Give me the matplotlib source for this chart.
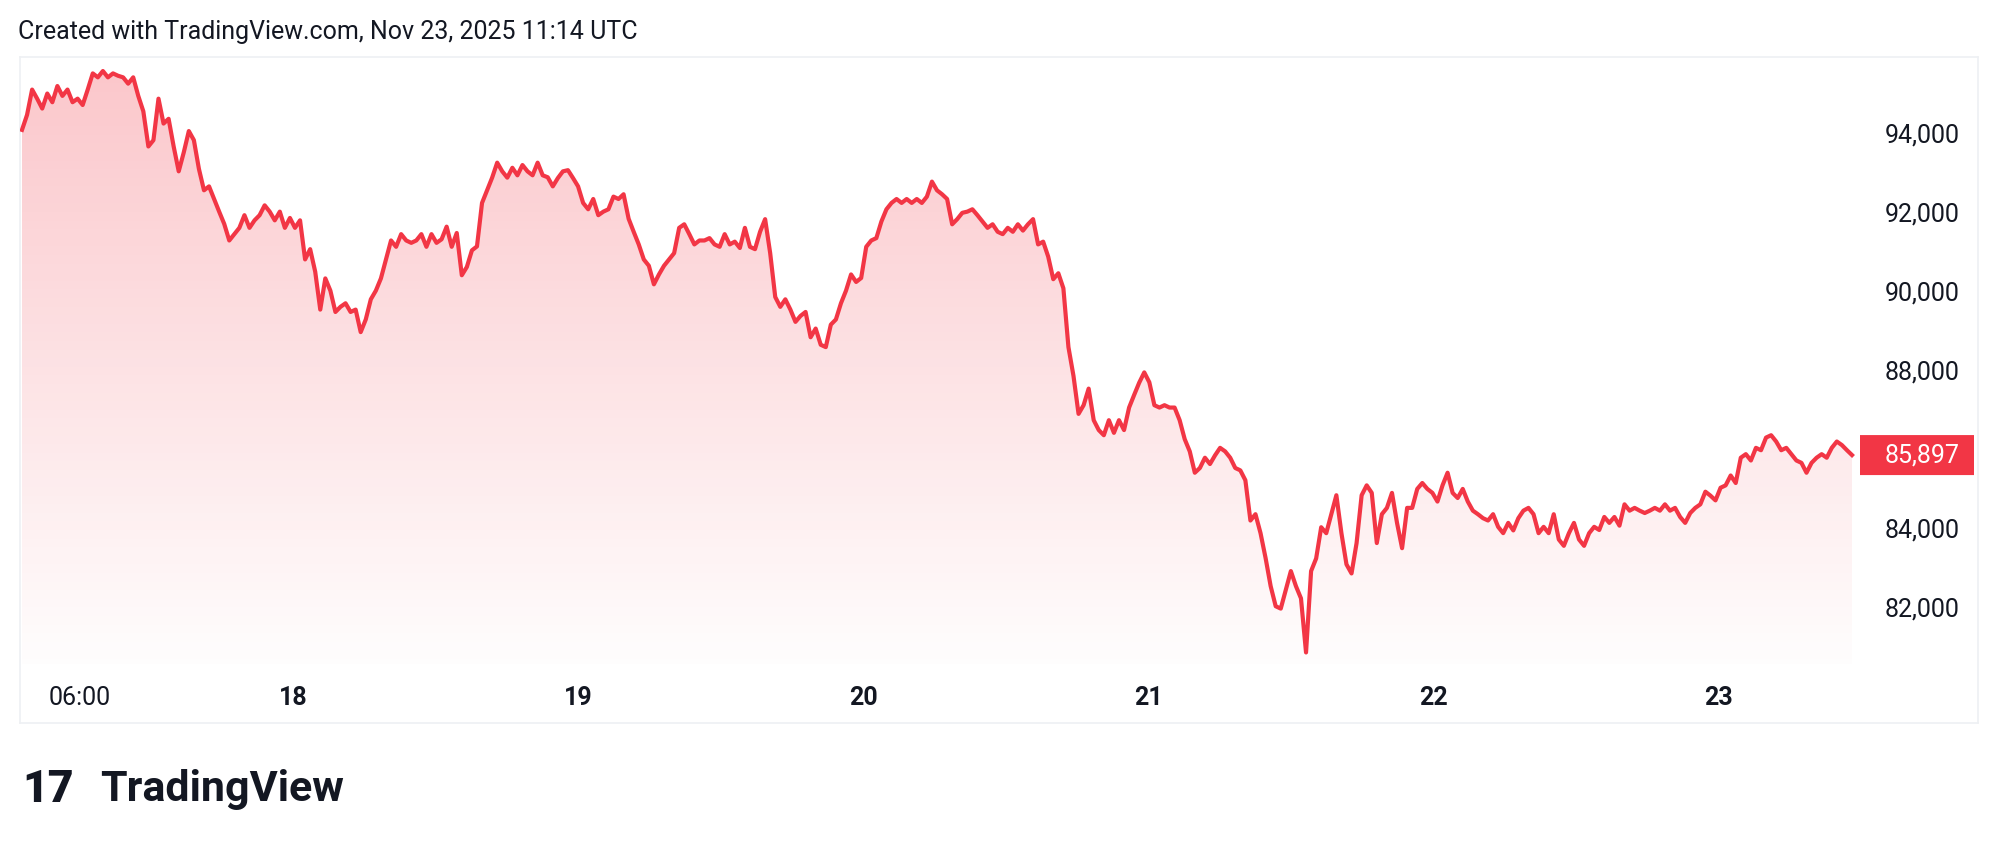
import numpy as np
import pandas as pd
import matplotlib
matplotlib.use("Agg")
import matplotlib.pyplot as plt
from matplotlib.patches import FancyBboxPatch, Polygon
import matplotlib.dates as mdates
import matplotlib.transforms as mtrans

plt.rcParams['font.family'] = ['Roboto', 'DejaVu Sans']

prices = [
94130,94510,95150,94920,94670,95050,94830,95240,94990,95150,94830,94920,94760,95150,95560,95460,95620,95460,95560,95500,95460,95300,95460,94990,94600,
93710,93870,94920,94290,94410,93710,93080,93560,94100,93870,93140,92600,92700,92380,92060,91750,91330,91490,91650,91970,91650,91840,91970,92220,92060,
91840,92060,91650,91900,91650,91840,90850,91110,90540,89580,90370,90060,89520,89650,89740,89520,89580,89010,89330,89840,90060,90370,90850,91330,91170,
91490,91330,91270,91330,91490,91170,91490,91270,91360,91680,91170,91520,90450,90660,91080,91180,92280,92600,92920,93300,93080,92920,93170,92980,93240,
93080,92980,93300,92980,92930,92700,92910,93080,93110,92910,92700,92280,92120,92380,91970,92060,92120,92440,92380,92500,91880,91550,91230,90850,90690,
90220,90470,90690,90850,91010,91650,91740,91490,91230,91330,91330,91390,91230,91170,91490,91230,91300,91140,91650,91170,91110,91550,91870,91010,89900,
89650,89840,89580,89270,89420,89520,88880,89100,88690,88630,89200,89330,89740,90060,90470,90280,90380,91170,91330,91390,91810,92120,92280,92380,92280,
92380,92280,92380,92280,92440,92820,92600,92500,92380,91740,91870,92030,92060,92120,91970,91810,91650,91740,91550,91490,91650,91550,91740,91580,91740,
91870,91230,91300,90920,90350,90500,90120,88630,87900,86940,87160,87580,86780,86530,86400,86780,86460,86780,86530,87100,87420,87730,87990,87740,87160,
87100,87160,87100,87100,86780,86300,85990,85450,85570,85830,85670,85890,86080,85990,85830,85570,85510,85260,84240,84400,83920,83290,82580,82070,82010,
82490,82960,82580,82270,80900,82960,83280,84070,83920,84400,84880,83920,83130,82900,83670,84880,85130,84940,83670,84400,84560,84940,84180,83540,84560,
84560,85040,85190,85040,84940,84720,85130,85450,84940,84810,85040,84720,84490,84400,84300,84240,84400,84080,83920,84180,83990,84300,84490,84560,84400,
83920,84080,83920,84400,83760,83600,83920,84180,83760,83600,83920,84080,84000,84330,84180,84330,84110,84650,84490,84560,84490,84430,84490,84560,84490,
84650,84490,84560,84330,84180,84430,84560,84650,84970,84870,84750,85070,85130,85380,85190,85830,85920,85760,86080,86020,86340,86400,86240,86020,86080,
85920,85760,85700,85450,85700,85830,85920,85830,86080,86240,86150,86020,85897]

t_start = pd.Timestamp("2025-11-17 01:10")
t_end = pd.Timestamp("2025-11-23 11:14")
times = pd.date_range(t_start, t_end, periods=len(prices))

ytick_show = [82000, 84000, 88000, 90000, 92000, 94000]
xtick_labels = ["06:00", "18", "19", "20", "21", "22", "23"]
xtick_times = ["2025-11-17 06:00", "2025-11-18", "2025-11-19", "2025-11-20",
               "2025-11-21", "2025-11-22", "2025-11-23"]

W, H = 1999, 850
fig = plt.figure(figsize=(W/100, H/100), dpi=100)
fig.patch.set_facecolor('white')
L, R, T, B = 20, 1978, 57, 723
ax = fig.add_axes([L/W, 1-B/H, (R-L)/W, (B-T)/H])
for s in ax.spines.values():
    s.set_color('#eef0f3'); s.set_linewidth(1.2)
ax.set_xticks([]); ax.set_yticks([])

x = mdates.date2num(times)
x0, x1 = x[0], x[-1]
span = x1 - x0
px = span / (1852 - 22)
ax.set_xlim(x0 - 2*px, x1 + 126*px)
ax.set_ylim(79114, 95975)

line_color = '#f23645'
fill_bottom = 80600
verts = np.column_stack([np.r_[x, x[-1], x[0]], np.r_[prices, fill_bottom, fill_bottom]])
poly = Polygon(verts, closed=True, facecolor='none', edgecolor='none')
ax.add_patch(poly)
grad = np.linspace(1, 0, 256).reshape(-1, 1)
rgba = np.zeros((256, 1, 4))
rgba[..., 0] = 0.949; rgba[..., 1] = 0.212; rgba[..., 2] = 0.271
rgba[..., 3] = 0.01 + 0.27 * grad
im = ax.imshow(rgba, extent=[x0, x1, fill_bottom, max(prices)], aspect='auto',
               origin='upper', zorder=1, interpolation='bilinear')
im.set_clip_path(poly)
ax.plot(x, prices, color=line_color, lw=3.0, zorder=3, solid_joinstyle='round')

FS = 18
tr = mtrans.blended_transform_factory(ax.transAxes, ax.transData)
xr = (1960 - L) / (R - L)
for v in ytick_show:
    ax.text(xr, v, f"{v:,}", transform=tr, ha='right', va='center',
            fontsize=FS, color='#131722')
last = prices[-1]
bx = (1860 - L) / (R - L); bw = (1974 - 1860) / (R - L)
bh = 40 / (B - T) * (95975 - 79114)
ax.add_patch(FancyBboxPatch((bx, last - bh/2), bw, bh, transform=tr,
             boxstyle="round,pad=0,rounding_size=0.002", facecolor=line_color,
             edgecolor='none', zorder=5, clip_on=False))
ax.text(xr, last, f"{last:,}", transform=tr, ha='right', va='center',
        fontsize=FS, color='white', zorder=6)

trx = mtrans.blended_transform_factory(ax.transData, ax.transAxes)
ylab = (B - 698) / (B - T)
for lab, tt in zip(xtick_labels, xtick_times):
    ax.text(mdates.date2num(pd.Timestamp(tt)), ylab, lab, transform=trx,
            ha='center', va='center', fontsize=FS, color='#131722',
            fontweight='normal' if ':' in lab else 'bold')

fig.text(18/W, 1-32/H, "Created with TradingView.com, Nov 23, 2025 11:14 UTC",
         fontsize=FS, color='#131722', va='center', ha='left')
fig.text(22/W, 1-790/H, "17", fontsize=32, fontweight='black', color='#131722',
         va='center', ha='left')
fig.text(100/W, 1-790/H, "TradingView", fontsize=31, fontweight='bold',
         color='#131722', va='center', ha='left')

fig.savefig("out.png", dpi=100, facecolor='white')
